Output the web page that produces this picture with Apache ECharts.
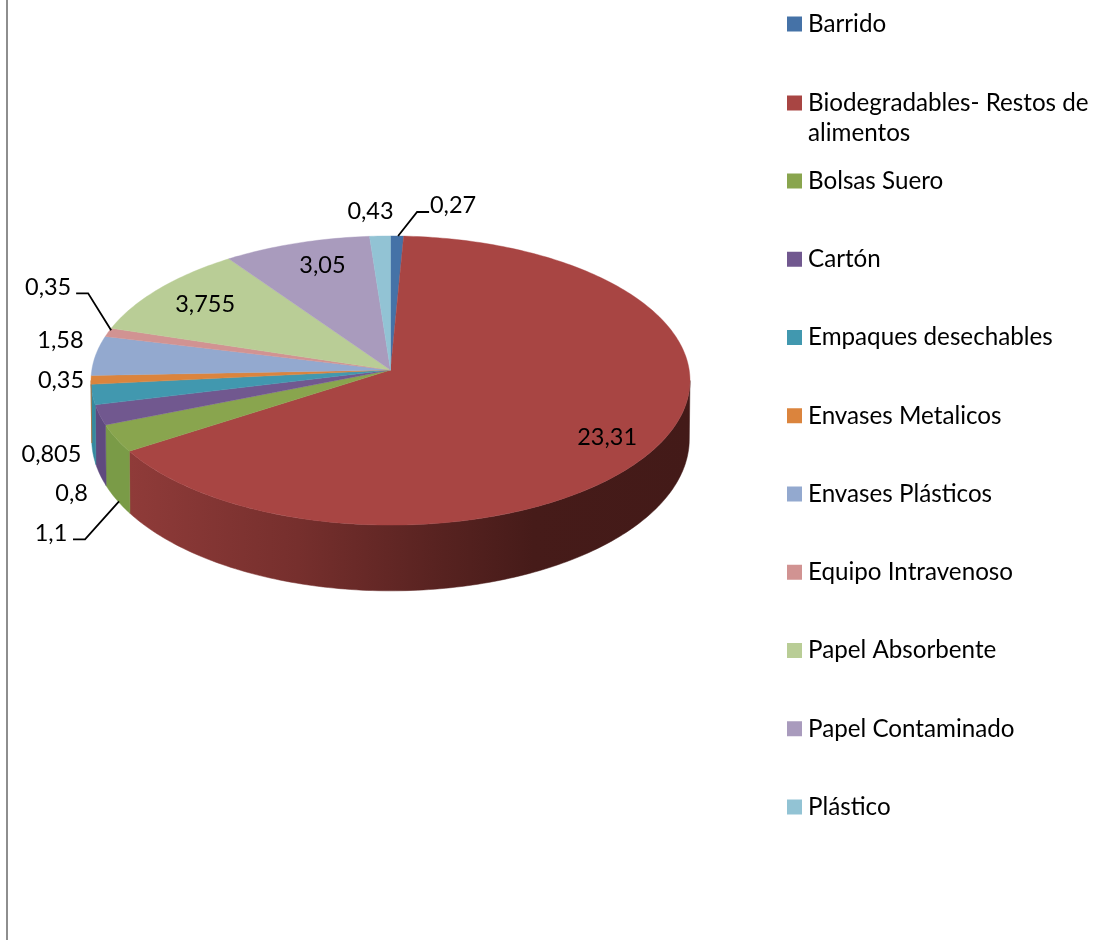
<!DOCTYPE html>
<html>
<head>
<meta charset="utf-8">
<style>html,body{margin:0;padding:0;background:#fff}#c{width:1093px;height:940px}</style>
<script src="https://cdn.jsdelivr.net/npm/echarts@6/dist/echarts.min.js"></script>
</head>
<body>
<div id="c"></div>
<script>
var categories = ['Barrido','Biodegradables- Restos de alimentos','Bolsas Suero','Cartón','Empaques desechables','Envases Metalicos','Envases Plásticos','Equipo Intravenoso','Papel Absorbente','Papel Contaminado','Plástico'];
var values = [0.27,23.31,1.1,0.8,0.805,0.35,1.58,0.35,3.755,3.05,0.43];

var topColors = ['#4572A7','#A84543','#89A54E','#71588F','#4198AF','#DB843D','#93A9CF','#D19392','#B9CD96','#A99BBD','#92C3D4'];
var wallColors = ['#38598a','#8a3836','#7a9b47','#5f4a7f','#358a9f','#b56d30','#7b8db0','#ad7a79','#9aab7c','#8c819d','#799fb0'];
var redWallStops = [[0,'#8f3b39'],[0.3,'#762f2d'],[0.54,'#592321'],[0.72,'#461b19'],[1,'#431a18']];

// label offset from the slice's rim point at mid-angle
var labelOffsets = [[56,-31],[-52,-7],[-65,95],[-28,78],[-41,60],[-30,1],[-35,-15],[-60,-45],[46,16],[26,22],[-9.5,-25]];
// leader line vertices, relative to the same rim point
var leaders = {0:[[32,-24],[20,-24],[1,0]], 2:[[-43,101],[-31,101],[3,63]], 7:[[-32,-39],[-20,-39],[3,-2]]};

var FONT = 'Lato';
var total = values.reduce(function(a,b){return a+b;},0);
var cx = 390.5, cy = 370, rimDepth = 58;
var persp = 0.0728;
var topFace = {a:298.7,b:143.8,y:cy};
var baseFace = {a:298,b:151,y:cy+rimDepth};

function project(face,deg){
  var t = deg*Math.PI/180, u = Math.sin(t), v = -Math.cos(t), d = 1-persp*v;
  return [cx+face.a*u/d, face.y+face.b*v/d];
}
function arc(face,from,to){
  var n = Math.max(2,Math.ceil(Math.abs(to-from))), pts = [];
  for(var i=0;i<=n;i++) pts.push(project(face,from+(to-from)*i/n));
  return pts;
}
var wallFrom = 90+Math.asin(persp)*180/Math.PI, wallTo = 270-Math.asin(persp)*180/Math.PI;

function renderSlice(idx){
  return function(params,api){
    var before = values.slice(0,idx).reduce(function(a,b){return a+b;},0);
    var start = before/total*360, end = (before+api.value(0))/total*360, mid = (start+end)/2;
    var kids = [];
    var a = Math.max(start,wallFrom), b = Math.min(end,wallTo);
    if(b>a){
      var wallFill = idx===1 ? {type:'linear',global:true,x:130,y:0,x2:690,y2:0,
        colorStops:redWallStops.map(function(s){return {offset:s[0],color:s[1]};})} : wallColors[idx];
      kids.push({type:'polygon',shape:{points:arc(topFace,a,b).concat(arc(baseFace,b,a))},
        style:{fill:wallFill,stroke:wallFill,lineWidth:0.5}});
    }
    kids.push({type:'polygon',shape:{points:[[cx,cy]].concat(arc(topFace,start,end))},
      style:{fill:topColors[idx],stroke:topColors[idx],lineWidth:0.4}});
    var rim = project(topFace,mid);
    if(leaders[idx]){
      kids.push({type:'polyline',z2:20,shape:{points:leaders[idx].map(function(o){return [rim[0]+o[0],rim[1]+o[1]];})},
        style:{fill:null,stroke:'#000',lineWidth:1.8}});
    }
    kids.push({type:'text',z2:30,style:{text:String(api.value(0)).replace('.',','),
      x:rim[0]+labelOffsets[idx][0],y:rim[1]+labelOffsets[idx][1],align:'center',verticalAlign:'middle',
      fill:'#000',font:'23.5px '+FONT}});
    return {type:'group',children:kids};
  };
}

var series = categories.map(function(name,i){
  return {type:'custom',name:name,coordinateSystem:'none',clip:false,silent:true,
    itemStyle:{color:topColors[i]},renderItem:renderSlice(i),data:[[values[i]]],animation:false};
});

function legendOf(names,top,gap,fmt){
  var l = {data:names,orient:'vertical',left:787,top:top,padding:0,itemGap:gap,itemWidth:15,itemHeight:15,
    icon:'rect',selectedMode:false,
    textStyle:{color:'#000',fontFamily:FONT,fontSize:24.2,lineHeight:30,padding:[0,0,0,1]}};
  if(fmt) l.formatter = fmt;
  return l;
}

var chart = echarts.init(document.getElementById('c'),null,{renderer:'canvas'});
chart.setOption({
  animation:false,
  backgroundColor:'#fff',
  legend:[
    legendOf(categories.slice(0,1),9,0),
    legendOf(categories.slice(1,2),58,0,function(){return '\nBiodegradables- Restos de\nalimentos';}),
    legendOf(categories.slice(2),166,48.25)
  ],
  graphic:[{type:'line',silent:true,shape:{x1:7,y1:0,x2:7,y2:940},style:{stroke:'#8e8e8e',lineWidth:2}}],
  series:series
});
</script>
</body>
</html>
